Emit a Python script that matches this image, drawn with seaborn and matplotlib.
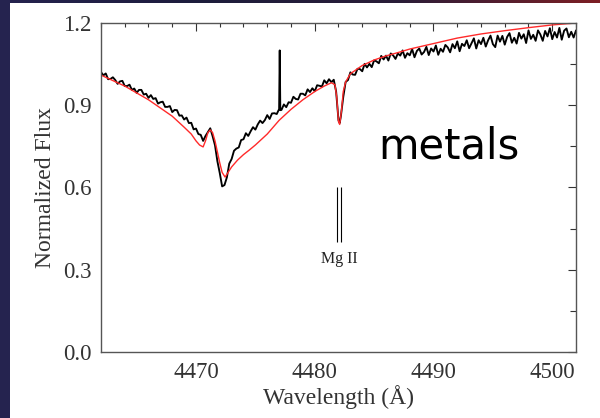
import numpy as np
import pandas as pd
import matplotlib
matplotlib.use("Agg")
import matplotlib.pyplot as plt
import seaborn as sns
from matplotlib.ticker import MultipleLocator, FixedLocator
from matplotlib.patches import Rectangle
from matplotlib.colors import LinearSegmentedColormap

# ---------------- data ----------------
wave_obs = [
    4462.0, 4462.2, 4462.4, 4462.6, 4462.8, 4463.0, 4463.2, 4463.4, 4463.6, 4463.8,
    4464.0, 4464.2, 4464.4, 4464.6, 4464.8, 4465.0, 4465.2, 4465.4, 4465.6, 4465.8,
    4466.0, 4466.2, 4466.4, 4466.6, 4466.8, 4467.0, 4467.2, 4467.4, 4467.6, 4467.8,
    4468.0, 4468.2, 4468.4, 4468.6, 4468.8, 4469.0, 4469.2, 4469.4, 4469.6, 4469.8,
    4470.0, 4470.2, 4470.4, 4470.6, 4470.8, 4471.0, 4471.2, 4471.4, 4471.6, 4471.8,
    4472.0, 4472.2, 4472.4, 4472.6, 4472.8, 4473.0, 4473.2, 4473.4, 4473.6, 4473.8,
    4474.0, 4474.2, 4474.4, 4474.6, 4474.8, 4475.0, 4475.2, 4475.4, 4475.6, 4475.8,
    4476.0, 4476.2, 4476.4, 4476.6, 4476.8, 4477.0, 4477.05, 4477.1, 4477.2, 4477.4,
    4477.6, 4477.8, 4478.0, 4478.2, 4478.4, 4478.6, 4478.8, 4479.0, 4479.2, 4479.4,
    4479.6, 4479.8, 4480.0, 4480.2, 4480.4, 4480.6, 4480.8, 4481.0, 4481.2, 4481.4,
    4481.6, 4481.8, 4482.0, 4482.1, 4482.2, 4482.4, 4482.6, 4482.8, 4483.0, 4483.2,
    4483.4, 4483.6, 4483.8, 4484.0, 4484.2, 4484.4, 4484.6, 4484.8, 4485.0, 4485.2,
    4485.4, 4485.6, 4485.8, 4486.0, 4486.2, 4486.4, 4486.6, 4486.8, 4487.0, 4487.2,
    4487.4, 4487.6, 4487.8, 4488.0, 4488.2, 4488.4, 4488.6, 4488.8, 4489.0, 4489.2,
    4489.4, 4489.6, 4489.8, 4490.0, 4490.2, 4490.4, 4490.6, 4490.8, 4491.0, 4491.2,
    4491.4, 4491.6, 4491.8, 4492.0, 4492.2, 4492.4, 4492.6, 4492.8, 4493.0, 4493.2,
    4493.4, 4493.6, 4493.8, 4494.0, 4494.2, 4494.4, 4494.6, 4494.8, 4495.0, 4495.2,
    4495.4, 4495.6, 4495.8, 4496.0, 4496.2, 4496.4, 4496.6, 4496.8, 4497.0, 4497.2,
    4497.4, 4497.6, 4497.8, 4498.0, 4498.2, 4498.4, 4498.6, 4498.8, 4499.0, 4499.2,
    4499.4, 4499.6, 4499.8, 4500.0, 4500.2, 4500.4, 4500.6, 4500.8, 4501.0, 4501.2,
    4501.4, 4501.6, 4501.8, 4502.0,
]
flux_obs = [
    1.021, 1.009, 1.016, 0.995, 0.996, 1.002, 0.992, 0.978, 0.987, 0.989,
    0.970, 0.970, 0.975, 0.956, 0.961, 0.945, 0.956, 0.956, 0.939, 0.942,
    0.927, 0.937, 0.923, 0.926, 0.906, 0.911, 0.913, 0.894, 0.894, 0.897,
    0.875, 0.883, 0.882, 0.862, 0.863, 0.848, 0.855, 0.835, 0.836, 0.812,
    0.815, 0.795, 0.792, 0.770, 0.788, 0.802, 0.816, 0.787, 0.754, 0.696,
    0.653, 0.604, 0.609, 0.637, 0.687, 0.704, 0.734, 0.742, 0.746, 0.773,
    0.776, 0.798, 0.788, 0.805, 0.820, 0.811, 0.830, 0.844, 0.835, 0.846,
    0.864, 0.850, 0.870, 0.871, 0.868, 0.886, 1.100, 0.882, 0.883, 0.903,
    0.893, 0.911, 0.909, 0.931, 0.923, 0.921, 0.942, 0.942, 0.936, 0.958,
    0.948, 0.962, 0.951, 0.973, 0.971, 0.968, 0.991, 0.980, 0.995, 0.984,
    0.993, 0.950, 0.845, 0.835, 0.860, 0.930, 0.985, 0.992, 1.020, 1.012,
    1.011, 1.033, 1.032, 1.024, 1.051, 1.038, 1.051, 1.039, 1.064, 1.060,
    1.053, 1.080, 1.067, 1.081, 1.063, 1.089, 1.082, 1.069, 1.089, 1.081,
    1.100, 1.073, 1.090, 1.082, 1.105, 1.075, 1.098, 1.107, 1.085, 1.094,
    1.113, 1.083, 1.107, 1.096, 1.118, 1.084, 1.106, 1.095, 1.120, 1.111,
    1.093, 1.123, 1.108, 1.133, 1.097, 1.124, 1.116, 1.137, 1.108, 1.126,
    1.144, 1.107, 1.137, 1.123, 1.146, 1.114, 1.137, 1.154, 1.123, 1.112,
    1.154, 1.132, 1.153, 1.121, 1.149, 1.163, 1.128, 1.146, 1.125, 1.164,
    1.143, 1.159, 1.127, 1.173, 1.142, 1.157, 1.135, 1.173, 1.158, 1.135,
    1.171, 1.151, 1.181, 1.141, 1.167, 1.147, 1.182, 1.139, 1.172, 1.180,
    1.148, 1.168, 1.147, 1.173,
]

wave_model = [
    4462.0, 4463.0, 4464.0, 4465.0, 4466.0, 4467.0, 4468.0, 4469.0, 4469.6, 4470.0,
    4470.3, 4470.6, 4470.8, 4471.0, 4471.2, 4471.4, 4471.6, 4471.8, 4472.0, 4472.2,
    4472.45, 4472.7, 4473.0, 4473.5, 4474.0, 4474.5, 4475.0, 4476.0, 4477.0, 4478.0,
    4479.0, 4480.0, 4480.8, 4481.4, 4481.7, 4481.85, 4482.0, 4482.1, 4482.25, 4482.4,
    4482.6, 4483.0, 4484.0, 4485.0, 4486.0, 4487.0, 4488.0, 4490.0, 4492.0, 4494.0,
    4496.0, 4498.0, 4500.0, 4502.0,
]
flux_model = [
    1.010, 0.990, 0.970, 0.945, 0.920, 0.890, 0.860, 0.820, 0.795, 0.770,
    0.755, 0.748, 0.770, 0.800, 0.810, 0.800, 0.770, 0.730, 0.690, 0.655,
    0.638, 0.655, 0.675, 0.700, 0.720, 0.737, 0.755, 0.795, 0.845, 0.885,
    0.920, 0.950, 0.970, 0.982, 0.975, 0.930, 0.840, 0.830, 0.880, 0.950,
    0.985, 1.015, 1.045, 1.065, 1.080, 1.092, 1.105, 1.125, 1.145, 1.160,
    1.172, 1.183, 1.193, 1.200,
]

mg_lines = [4481.9, 4482.2]
mg_range = [0.40, 0.60]
mg_label = "Mg II"
mg_label_pos = (4482.05, 0.338)

x_ticks = [4470, 4480, 4490, 4500]
y_ticks = [0.0, 0.3, 0.6, 0.9, 1.2]
x_label = "Wavelength (Å)"
y_label = "Normalized Flux"
note = "metals"
note_pos = (4491.3, 0.707)

# ---------------- drawing ----------------
sns.set_theme(style="white")
plt.rcParams['font.family'] = ['Liberation Serif', 'DejaVu Serif']

fig = plt.figure(figsize=(6.0, 4.18), dpi=100)
fig.patch.set_facecolor("white")

# slide decorations: left navy strip and top gradient strip
fig.patches.append(Rectangle((0, 0), 10 / 600, 1, transform=fig.transFigure,
                             facecolor="#25234f", edgecolor="none", zorder=0))
grad_ax = fig.add_axes([0, 1 - 3.5 / 418, 1, 3.5 / 418])
cmap = LinearSegmentedColormap.from_list(
    "slide", ["#25234f", "#1d1c3c", "#2a1d38", "#7d1f24"])
grad_ax.imshow(np.linspace(0, 1, 256)[None, :], aspect="auto", cmap=cmap)
grad_ax.set_axis_off()

ax = fig.add_axes([101 / 600, 1 - 352 / 418, 475 / 600, 329 / 418])

obs_df = pd.DataFrame({"wave": wave_obs, "flux": flux_obs})
mod_df = pd.DataFrame({"wave": wave_model, "flux": flux_model})

sns.lineplot(data=obs_df, x="wave", y="flux", ax=ax, color="black",
             linewidth=1.35, estimator=None, sort=False)
sns.lineplot(data=mod_df, x="wave", y="flux", ax=ax, color="#ff2a2a",
             linewidth=1.0, estimator=None, sort=False)

ax.vlines(mg_lines, mg_range[0], mg_range[1], colors="black", linewidth=0.8)
ax.text(mg_label_pos[0], mg_label_pos[1], mg_label, ha="center", va="center",
        fontsize=11.5, color="#222222")

ax.text(note_pos[0], note_pos[1], note, ha="center", va="baseline", fontsize=30,
        family=["DejaVu Sans"], color="black")

ax.set_xlim(4462, 4502)
ax.set_ylim(0.0, 1.2)
ax.xaxis.set_major_locator(FixedLocator(x_ticks))
ax.xaxis.set_minor_locator(MultipleLocator(2))
ax.yaxis.set_major_locator(FixedLocator(y_ticks))
ax.yaxis.set_minor_locator(MultipleLocator(0.15))
ax.set_xticklabels([str(t) for t in x_ticks])
ax.set_yticklabels([f"{t:.1f}" for t in y_ticks])

ax.tick_params(axis="both", which="both", direction="in", top=True, right=True,
               colors="#333333", labelsize=16.5, width=0.8)
ax.tick_params(axis="both", which="major", length=5.5, pad=7)
ax.tick_params(axis="both", which="minor", length=2.8)
ax.tick_params(axis="y", which="minor", length=4.5)

ax.set_xlabel(x_label, fontsize=17, color="#333333", labelpad=2)
ax.set_ylabel(y_label, fontsize=17, color="#333333", labelpad=5)

for s in ax.spines.values():
    s.set_color("#555555")
    s.set_linewidth(1.0)
ax.set_facecolor("white")

fig.savefig("out.png", dpi=100)
